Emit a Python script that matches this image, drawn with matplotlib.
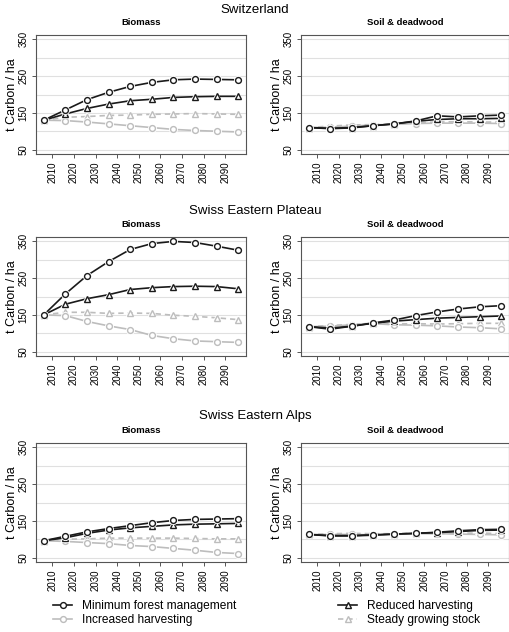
import matplotlib
matplotlib.use("Agg")
import matplotlib.pyplot as plt
from matplotlib.lines import Line2D

plt.rcParams['font.family'] = ['Liberation Sans', 'DejaVu Sans']

# simulation years (one point per decade)
years = [2006, 2016, 2026, 2036, 2046, 2056, 2066, 2076, 2086, 2096]
xticks = [2010, 2020, 2030, 2040, 2050, 2060, 2070, 2080, 2090]
yticks = [50, 150, 250, 350]

regions = ["Switzerland", "Swiss Eastern Plateau", "Swiss Eastern Alps"]
pools = ["Biomass", "Soil & deadwood"]
scenarios = ["Minimum forest management", "Increased harvesting",
             "Reduced harvesting", "Steady growing stock"]

# Switzerland
ch_bio_min = [130, 158, 186, 206, 222, 233, 240, 242, 241, 240]
ch_bio_inc = [130, 129, 125, 120, 115, 110, 105, 102, 100, 98]
ch_bio_red = [130, 147, 162, 174, 183, 187, 192, 194, 195, 195]
ch_bio_ste = [130, 138, 140, 143, 144, 146, 147, 148, 147, 146]
ch_soil_min = [110, 107, 109, 115, 120, 128, 142, 139, 142, 144]
ch_soil_inc = [110, 111, 114, 117, 119, 121, 122, 122, 122, 121]
ch_soil_red = [110, 108, 110, 115, 120, 127, 132, 134, 134, 135]
ch_soil_ste = [110, 114, 117, 118, 120, 123, 125, 126, 125, 125]

# Swiss Eastern Plateau
pl_bio_min = [150, 207, 257, 295, 328, 344, 350, 347, 337, 326]
pl_bio_inc = [150, 148, 132, 120, 110, 94, 85, 79, 77, 75]
pl_bio_red = [150, 179, 194, 205, 219, 224, 227, 228, 227, 221]
pl_bio_ste = [150, 157, 157, 154, 155, 154, 149, 146, 142, 137]
pl_soil_min = [118, 111, 119, 128, 136, 148, 158, 166, 172, 175]
pl_soil_inc = [118, 119, 123, 126, 123, 122, 120, 117, 115, 112]
pl_soil_red = [118, 114, 119, 127, 133, 137, 141, 143, 145, 147]
pl_soil_ste = [118, 121, 124, 127, 125, 126, 125, 126, 127, 127]

# Swiss Eastern Alps
al_bio_min = [96, 108, 120, 129, 137, 145, 151, 154, 155, 156]
al_bio_inc = [96, 94, 91, 88, 83, 80, 75, 70, 64, 61]
al_bio_red = [96, 104, 116, 125, 131, 135, 139, 141, 142, 143]
al_bio_ste = [96, 100, 101, 103, 103, 103, 103, 102, 101, 101]
al_soil_min = [113, 109, 109, 111, 114, 116, 119, 123, 126, 127]
al_soil_inc = [113, 113, 113, 112, 113, 115, 115, 114, 113, 112]
al_soil_red = [113, 110, 110, 112, 114, 116, 118, 121, 124, 125]
al_soil_ste = [113, 115, 116, 115, 115, 117, 116, 116, 117, 115]

panels = [
    [[ch_bio_min, ch_bio_inc, ch_bio_red, ch_bio_ste],
     [ch_soil_min, ch_soil_inc, ch_soil_red, ch_soil_ste]],
    [[pl_bio_min, pl_bio_inc, pl_bio_red, pl_bio_ste],
     [pl_soil_min, pl_soil_inc, pl_soil_red, pl_soil_ste]],
    [[al_bio_min, al_bio_inc, al_bio_red, al_bio_ste],
     [al_soil_min, al_soil_inc, al_soil_red, al_soil_ste]],
]

dark = "#1a1a1a"
light = "#bdbdbd"
# color, marker, dashed
styles = [(dark, "o", False), (light, "o", False),
          (dark, "^", False), (light, "^", True)]
draw_order = [3, 1, 2, 0]

W, H = 510, 632
fig = plt.figure(figsize=(W / 100, H / 100), dpi=100)

row_tops = [35, 237, 443]
row_h = 119
col_lefts = [36, 301]
col_w = [210, 208]
title_y = [10, 211, 416]


def draw_series(ax, y, color, marker, dashed):
    kw = dict(color=color, lw=1.2, solid_capstyle="butt")
    if dashed:
        kw["dashes"] = (3.2, 2.4)
    ax.plot(years, y, **kw)
    # white halo so the line stops short of the symbol (R type = "b")
    ax.plot(years, y, ls="none", marker=marker, ms=6.5, mfc="white",
            mec="white", mew=0)
    ax.plot(years, y, ls="none", marker=marker, ms=4.2, mfc="none",
            mec=color, mew=1.0)


for r in range(3):
    fig.text(0.5, 1 - title_y[r] / H, regions[r], ha="center", va="center",
             fontsize=9.5)
    for c in range(2):
        ax = fig.add_axes([col_lefts[c] / W, 1 - (row_tops[r] + row_h) / H,
                           col_w[c] / W, row_h / H])
        for v in range(50, 351, 50):
            ax.axhline(v, color="#e0e0e0", lw=0.8, zorder=0)
        for i in draw_order:
            color, marker, dashed = styles[i]
            draw_series(ax, panels[r][c][i], color, marker, dashed)
        ax.set_xlim(2002.4, 2099.6)
        ax.set_ylim(38, 362)
        ax.set_xticks(xticks)
        ax.set_xticklabels([str(t) for t in xticks], rotation=90)
        ax.set_yticks(yticks)
        ax.set_yticklabels([str(t) for t in yticks], rotation=90, va="center")
        ax.tick_params(labelsize=7, length=3, width=0.7, color="#555555",
                       pad=2.5)
        for s in ax.spines.values():
            s.set_color("#555555")
            s.set_linewidth(0.8)
        ax.set_ylabel("t Carbon / ha", fontsize=9, labelpad=0)
        ax.set_title(pools[c], fontsize=6.8, fontweight="bold", pad=7)


def handle(i):
    color, marker, dashed = styles[i]
    kw = dict(color=color, lw=1.2, marker=marker, ms=4.2, mfc="white",
              mec=color, mew=1.0)
    if dashed:
        kw["dashes"] = (3.2, 2.4)
    return Line2D([], [], **kw)


leg_kw = dict(frameon=False, fontsize=8.6, handlelength=1.6,
              handletextpad=0.8, labelspacing=0.15, borderpad=0,
              borderaxespad=0, loc="upper left")
fig.legend([handle(0), handle(1)], [scenarios[0], scenarios[1]],
           bbox_to_anchor=(53 / W, 1 - 600.5 / H), **leg_kw)
fig.legend([handle(2), handle(3)], [scenarios[2], scenarios[3]],
           bbox_to_anchor=(338 / W, 1 - 600.5 / H), **leg_kw)

fig.savefig("out.png", dpi=100)
